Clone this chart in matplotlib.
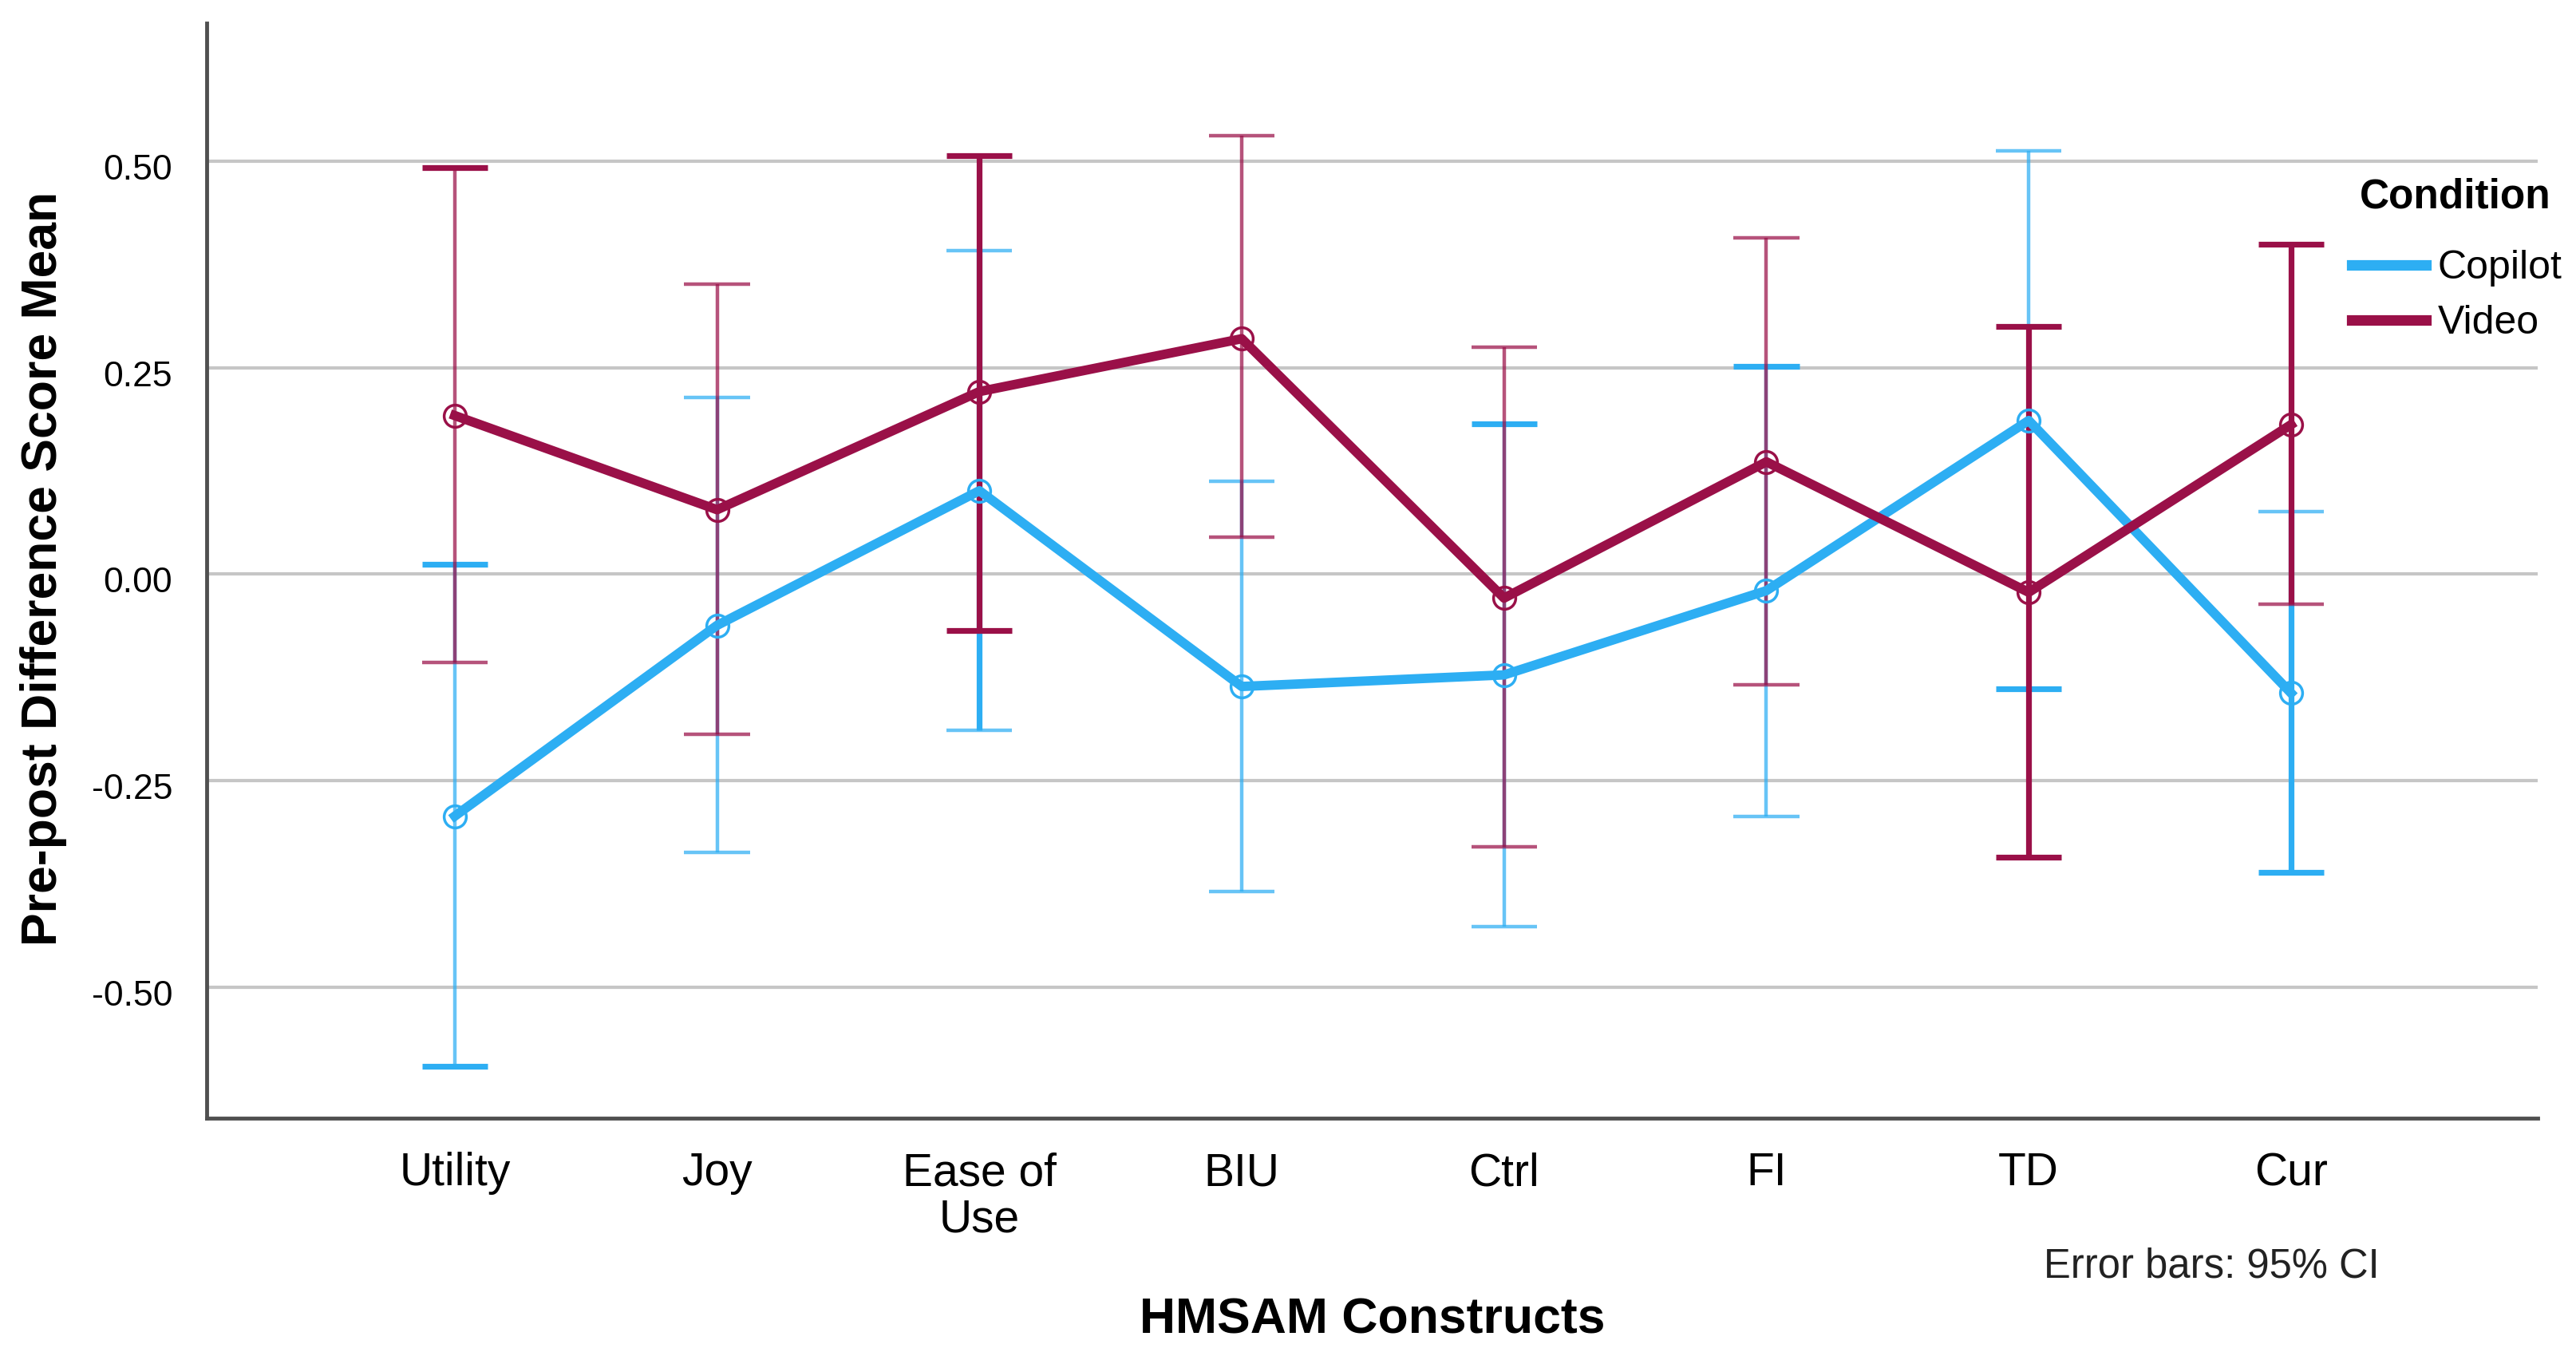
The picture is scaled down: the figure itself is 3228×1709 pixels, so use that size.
import matplotlib
matplotlib.use("Agg")
import matplotlib.pyplot as plt
import matplotlib.transforms as mtransforms
from matplotlib.lines import Line2D
import numpy as np

plt.rcParams['font.family'] = ['Liberation Sans', 'DejaVu Sans']

categories = ["Utility", "Joy", "Ease of\nUse", "BIU", "Ctrl", "FI", "TD", "Cur"]
series_names = ["Copilot", "Video"]

copilot_mean = [-0.293, -0.062, 0.101, -0.136, -0.122, -0.020, 0.186, -0.144]
copilot_upper = [0.012, 0.214, 0.392, 0.112, 0.182, 0.252, 0.512, 0.076]
copilot_lower = [-0.596, -0.337, -0.189, -0.384, -0.427, -0.293, -0.139, -0.361]

video_mean = [0.192, 0.078, 0.221, 0.285, -0.029, 0.136, -0.022, 0.181]
video_upper = [0.492, 0.351, 0.507, 0.531, 0.275, 0.407, 0.300, 0.399]
video_lower = [-0.107, -0.194, -0.068, 0.045, -0.330, -0.134, -0.343, -0.036]

yticks = [-0.50, -0.25, 0.00, 0.25, 0.50]

# rendering style: which error-bar strokes look heavy in the original (top cap, stem, bottom cap)
copilot_heavy = [(1, 0, 1), (0, 0, 0), (0, 1, 0), (0, 0, 0), (1, 0, 0), (1, 0, 0), (0, 0, 1), (0, 1, 1)]
video_heavy = [(1, 0, 0), (0, 0, 0), (1, 1, 1), (0, 0, 0), (0, 0, 0), (0, 0, 0), (1, 1, 1), (1, 1, 0)]

blue = "#2DAEF3"
maroon = "#9A1048"

fig = plt.figure(figsize=(32.28, 17.09), dpi=100)
ax = fig.add_axes([0.0803, 0.180, 0.985 - 0.0803, 0.983 - 0.180])

x = np.arange(len(categories))
cap_half = 0.125
HEAVY = dict(lw=5.2, alpha=1.0)
LIGHT = dict(lw=3.2, alpha=0.72)

def draw_errbars(lows, ups, color, heavy, z):
    for i in range(len(lows)):
        top, stem, bot = (HEAVY if h else LIGHT for h in heavy[i])
        ax.vlines(x[i], lows[i], ups[i], color=color, zorder=z, **stem)
        ax.hlines(ups[i], x[i] - cap_half, x[i] + cap_half, color=color, zorder=z, **top)
        ax.hlines(lows[i], x[i] - cap_half, x[i] + cap_half, color=color, zorder=z, **bot)

draw_errbars(copilot_lower, copilot_upper, blue, copilot_heavy, 3)
draw_errbars(video_lower, video_upper, maroon, video_heavy, 3)

ax.plot(x, copilot_mean, color=blue, lw=8.5, zorder=4, solid_joinstyle='round',
        marker='o', markersize=20, markerfacecolor='none', markeredgecolor=blue, markeredgewidth=2.5)
ax.plot(x, video_mean, color=maroon, lw=8.5, zorder=5, solid_joinstyle='round',
        marker='o', markersize=20, markerfacecolor='none', markeredgecolor=maroon, markeredgewidth=2.5)

ax.set_xlim(-0.945, 7.939)
ax.set_ylim(-0.659, 0.667)
ax.set_yticks(yticks)
ax.set_yticklabels([f"{v:.2f}" for v in yticks])
ax.set_xticks(x)
ax.set_xticklabels(categories)
for lbl in ax.get_xticklabels():
    lbl.set_linespacing(1.1)

ax.tick_params(axis='y', length=0, pad=31, labelsize=32)
ax.tick_params(axis='x', length=0, pad=30, labelsize=41)
offset = mtransforms.ScaledTranslation(0, -5 / 72, fig.dpi_scale_trans)
for lbl in ax.get_yticklabels():
    lbl.set_transform(lbl.get_transform() + offset)

for yv in yticks:
    ax.axhline(yv, color="#C6C6C6", lw=3, zorder=1)

for s in ['top', 'right']:
    ax.spines[s].set_visible(False)
for s in ['left', 'bottom']:
    ax.spines[s].set_color("#505050")
    ax.spines[s].set_linewidth(3.5)

ax.set_ylabel("Pre-post Difference Score Mean", fontsize=45, fontweight='bold')
ax.yaxis.set_label_coords(-0.0702, 0.502)
ax.yaxis.label.set_va('center')
ax.set_xlabel("HMSAM Constructs", fontsize=45, fontweight='bold')
ax.xaxis.set_label_coords(0.5, -0.184)
ax.xaxis.label.set_va('center')

fig.text(2771 / 3228, 1 - 1587 / 1709, "Error bars: 95% CI", fontsize=36.5,
         ha='center', va='center', color='#222222')

fig.text(3077 / 3228, 1 - 247 / 1709, "Condition", fontsize=37, fontweight='bold',
         ha='center', va='center')

handles = [Line2D([0], [0], color=blue, lw=9.5), Line2D([0], [0], color=maroon, lw=9.5)]
leg = ax.legend(handles, series_names, loc='upper left',
                bbox_to_anchor=(2947 / 3228, 1 - 313 / 1709), bbox_transform=fig.transFigure,
                frameon=False, fontsize=36,
                handlelength=1.85, handletextpad=0.3, labelspacing=0.47, borderpad=0,
                borderaxespad=0)

fig.savefig("out.png", dpi=100)
